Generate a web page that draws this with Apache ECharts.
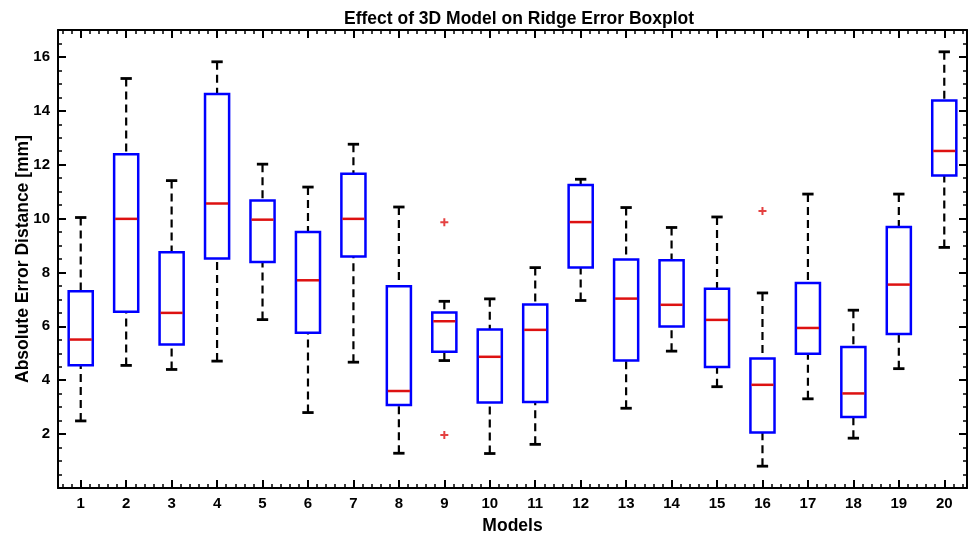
<!DOCTYPE html>
<html>
<head>
<meta charset="utf-8">
<script src="https://cdn.jsdelivr.net/npm/echarts@6/dist/echarts.min.js"></script>
<style>
html,body{margin:0;padding:0;background:#fff;}
#chart{width:976px;height:536px;}
</style>
</head>
<body>
<div id="chart"></div>
<script>
const categories = ['1','2','3','4','5','6','7','8','9','10','11','12','13','14','15','16','17','18','19','20'];
const lowWhisker  = [2.49, 4.55, 4.40, 4.71, 6.25, 2.80, 4.67, 1.29, 4.73, 1.28, 1.62, 6.96, 2.96, 5.08, 3.76, 0.81, 3.31, 1.85, 4.43, 8.93];
const q1          = [4.56, 6.54, 5.33, 8.52, 8.39, 5.76, 8.59, 3.08, 5.06, 3.17, 3.19, 8.18, 4.73, 5.99, 4.49, 2.06, 4.98, 2.64, 5.72, 11.60];
const median      = [5.51, 9.99, 6.50, 10.56, 9.96, 7.71, 9.99, 3.60, 6.19, 4.87, 5.87, 9.87, 7.03, 6.80, 6.24, 3.83, 5.94, 3.51, 7.55, 12.51];
const q3          = [7.30, 12.39, 8.75, 14.62, 10.67, 9.50, 11.66, 7.49, 6.51, 5.88, 6.81, 11.25, 8.48, 8.45, 7.40, 4.81, 7.61, 5.23, 9.69, 14.38];
const highWhisker = [10.04, 15.20, 11.41, 15.82, 12.02, 11.17, 12.76, 10.43, 6.93, 7.02, 8.18, 11.46, 10.41, 9.67, 10.06, 7.24, 10.91, 6.60, 10.91, 16.19];
const outlierCategory = ['9', '9', '16'];
const outlierValue    = [9.86, 1.97, 10.28];
const minorCategories = Array.from({length: 100}, (_, i) => String(i));

const FONT = 'Liberation Sans';
const boxData = categories.map((c, i) => [i, lowWhisker[i], q1[i], median[i], q3[i], highWhisker[i]]);
const outlierData = outlierCategory.map((c, i) => [categories.indexOf(c), outlierValue[i]]);

const chart = echarts.init(document.getElementById('chart'), null, {renderer: 'canvas'});

function majorX(pos, showLabel) {
  return {
    type: 'category', data: categories, position: pos, boundaryGap: true,
    axisLine: {show: true, onZero: false, lineStyle: {color: '#000', width: 2}},
    axisTick: {show: true, inside: true, length: 8, alignWithLabel: true, interval: 0, lineStyle: {color: '#000', width: 2}},
    axisLabel: {show: showLabel, interval: 0, margin: 8, color: '#000', fontFamily: FONT, fontWeight: 'bold', fontSize: 15},
    splitLine: {show: false}
  };
}
function minorX(pos) {
  return {
    type: 'category', data: minorCategories, position: pos, boundaryGap: true,
    axisLine: {show: false, onZero: false},
    axisTick: {show: true, inside: true, length: 4, alignWithLabel: true, interval: 0, lineStyle: {color: '#000', width: 1.5}},
    axisLabel: {show: false}, splitLine: {show: false}
  };
}
function majorY(pos, showLabel) {
  return {
    type: 'value', min: 0, max: 17, interval: 2, position: pos,
    axisLine: {show: true, onZero: false, lineStyle: {color: '#000', width: 2}},
    axisTick: {show: true, inside: true, length: 8, lineStyle: {color: '#000', width: 2}},
    axisLabel: {show: showLabel, margin: 8, color: '#000', fontFamily: FONT, fontWeight: 'bold', fontSize: 15,
      formatter: v => (v > 0 && v < 17 && v % 2 === 0) ? String(v) : ''},
    splitLine: {show: false}
  };
}
function minorY(pos) {
  return {
    type: 'value', min: 0, max: 17, interval: 0.5, position: pos,
    axisLine: {show: false, onZero: false},
    axisTick: {show: true, inside: true, length: 4, lineStyle: {color: '#000', width: 1.5}},
    axisLabel: {show: false}, splitLine: {show: false}
  };
}

const xMain = majorX('bottom', true);
xMain.name = 'Models';
xMain.nameLocation = 'middle';
xMain.nameGap = 29;
xMain.nameMoveOverlap = false;
xMain.nameTextStyle = {color: '#000', fontFamily: FONT, fontWeight: 'bold', fontSize: 17.5};

const yMain = majorY('left', true);
yMain.name = 'Absolute Error Distance [mm]';
yMain.nameLocation = 'middle';
yMain.nameGap = 26;
yMain.nameMoveOverlap = false;
yMain.nameTextStyle = {color: '#000', fontFamily: FONT, fontWeight: 'bold', fontSize: 17.5};

const option = {
  animation: false,
  backgroundColor: '#fff',
  title: {
    text: 'Effect of 3D Model on Ridge Error Boxplot',
    left: 339, top: 5,
    textStyle: {color: '#000', fontFamily: FONT, fontWeight: 'bold', fontSize: 17.5}
  },
  grid: {left: 58, top: 30, width: 909, height: 458, containLabel: false, outerBoundsMode: 'none'},
  xAxis: [xMain, minorX('bottom'), majorX('top', false), minorX('top')],
  yAxis: [yMain, minorY('left'), majorY('right', false), minorY('right')],
  series: [
    {
      type: 'custom',
      xAxisIndex: 0, yAxisIndex: 0,
      data: boxData,
      encode: {x: 0, y: [1, 2, 3, 4, 5]},
      renderItem: function (params, api) {
        const xi = api.value(0);
        const pLo = api.coord([xi, api.value(1)]);
        const pQ1 = api.coord([xi, api.value(2)]);
        const pMed = api.coord([xi, api.value(3)]);
        const pQ3 = api.coord([xi, api.value(4)]);
        const pHi = api.coord([xi, api.value(5)]);
        const band = api.size([1, 0])[0];
        const bw = band * 0.53;
        const cw = bw * 0.47;
        const cx = pMed[0];
        const whisk = {stroke: '#000', lineWidth: 2.2, lineDash: [8, 5]};
        const cap = {stroke: '#000', lineWidth: 2.8};
        return {
          type: 'group',
          children: [
            {type: 'line', shape: {x1: cx, y1: pHi[1], x2: cx, y2: pQ3[1]}, style: whisk},
            {type: 'line', shape: {x1: cx, y1: pLo[1], x2: cx, y2: pQ1[1]}, style: whisk},
            {type: 'line', shape: {x1: cx - cw / 2, y1: pHi[1], x2: cx + cw / 2, y2: pHi[1]}, style: cap},
            {type: 'line', shape: {x1: cx - cw / 2, y1: pLo[1], x2: cx + cw / 2, y2: pLo[1]}, style: cap},
            {type: 'rect', shape: {x: cx - bw / 2, y: pQ3[1], width: bw, height: pQ1[1] - pQ3[1]},
              style: {fill: '#fff', stroke: '#0000ff', lineWidth: 2.5}},
            {type: 'line', shape: {x1: cx - bw / 2 + 1, y1: pMed[1], x2: cx + bw / 2 - 1, y2: pMed[1]},
              style: {stroke: '#dd1111', lineWidth: 2.5}}
          ]
        };
      }
    },
    {
      type: 'scatter',
      xAxisIndex: 0, yAxisIndex: 0,
      data: outlierData,
      symbol: 'path://M3,0h2v3h3v2h-3v3h-2v-3h-3v-2h3z',
      symbolSize: 8,
      itemStyle: {color: '#dd1111'}
    }
  ]
};
chart.setOption(option);
</script>
</body>
</html>
